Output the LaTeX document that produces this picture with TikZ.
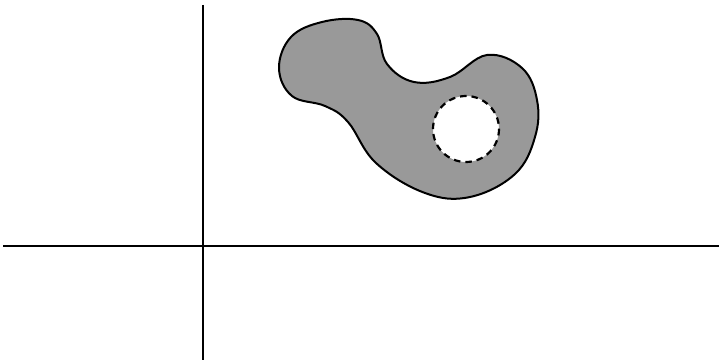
\documentclass[tikz,border=0pt]{standalone}
\usepackage{tikz}
\usetikzlibrary{calc}
\definecolor{blobgray}{gray}{0.6}
\newcommand{\blobpath}{plot[smooth cycle,tension=0.65] coordinates {
    (279,68) (291,37) (322,22) (358,20) (377,34) (387,64) (414,82)
    (450,77) (487,55) (522,68) (537,100) (535,137) (515,174)
    (470,197) (425,193) (376,163) (348,122) (325,106) (292,96)}}

\begin{document}
\begin{tikzpicture}[x=1pt,y=-1pt,
  axis/.style={line width=2pt},
  region/.style={line width=2pt},
  hole/.style={line width=2.2pt,dash pattern=on 6.5pt off 5pt}]
  \useasboundingbox (0,0) rectangle (719,363);

  % Akser
  \coordinate (O) at (203,246);
  \draw[axis] (3,246) -- (719,246);
  \draw[axis] (203,5) -- (203,360);

  % Omraade med hul
  \coordinate (H) at (466,129);
  \fill[blobgray,even odd rule] \blobpath (H) circle[radius=33];
  \draw[region] \blobpath;

  % Hullets rand
  \draw[hole] (H) circle[radius=33];
\end{tikzpicture}
\end{document}
